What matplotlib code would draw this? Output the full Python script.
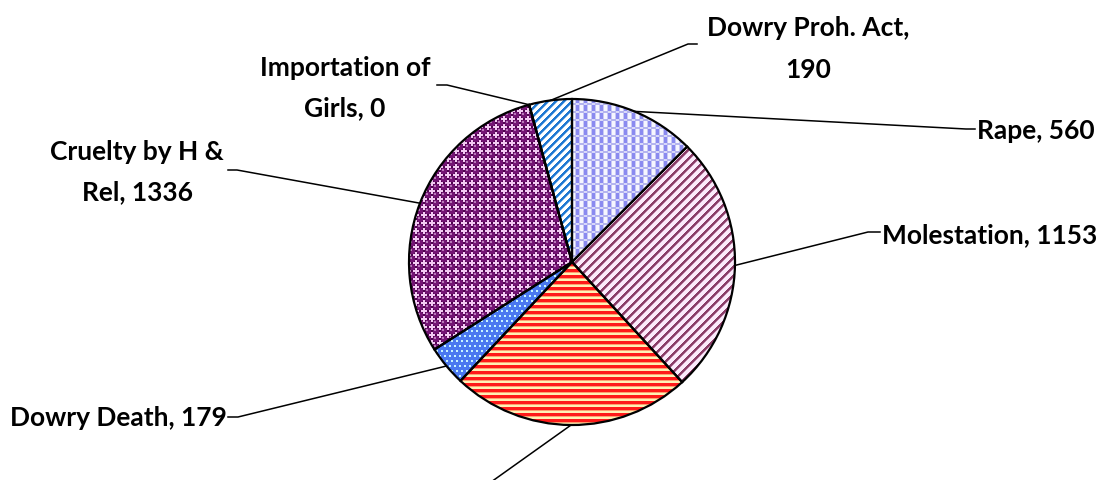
import numpy as np
import matplotlib
matplotlib.use("Agg")
import matplotlib.pyplot as plt
from matplotlib.colors import to_rgb

# Crimes against women: registered cases by head
categories = ["Rape", "Molestation", "Kidnapping & Abduction", "Dowry Death",
              "Cruelty by H & Rel", "Importation of Girls", "Dowry Proh. Act"]
values = [560, 1153, 1068, 179, 1336, 0, 190]
# label of each slice as printed (the kidnapping label falls below the frame)
label_texts = ["Rape, 560", "Molestation, 1153", None,
               "Dowry Death, 179", "Cruelty by H &\nRel, 1336",
               "Importation of\nGirls, 0", "Dowry Proh. Act,\n190"]

W, H = 1107, 481
fig = plt.figure(figsize=(W / 100, H / 100), dpi=100)
ax = fig.add_axes([0, 0, 1, 1])

CX, CY, R = 572, H - 263, 163

wedges, _ = ax.pie(values, startangle=90, counterclock=False, radius=R,
                   center=(CX, CY), frame=True,
                   wedgeprops=dict(facecolor="none", edgecolor="black",
                                   linewidth=1.6, zorder=3))

# ---- pixel textures used as slice fills ----
yy, xx = np.mgrid[0:H, 0:W]


def paint(img, mask, color):
    img[mask] = to_rgb(color)


def tex_check():
    img = np.empty((H, W, 3))
    img[:] = to_rgb("#c8c8f4")
    px, py = xx % 8, yy % 8
    paint(img, (px < 3) & (py >= 2), "#8a8af0")
    paint(img, (px >= 4) & (px < 7) & (py >= 2), "#f6f6ff")
    paint(img, (py < 2), "#b4b4ee")
    paint(img, (px < 3) & (py < 2), "#d8d8fa")
    return img


def tex_diag(period, width, dark, mid, light):
    img = np.empty((H, W, 3))
    img[:] = to_rgb(light)
    d = (xx + yy) % period
    paint(img, d < width, dark)
    paint(img, d == width, mid)
    return img


def tex_hstripe():
    img = np.empty((H, W, 3))
    img[:] = to_rgb("#fff0b4")
    py = yy % 6
    paint(img, py < 3, "#ff1a1a")
    paint(img, py == 3, "#ffa070")
    return img


def tex_dots():
    img = np.empty((H, W, 3))
    img[:] = to_rgb("#4a78f0")
    row = yy // 5
    px = (xx + (row % 2) * 2) % 5
    py = yy % 5
    paint(img, (px >= 1) & (px <= 2) & (py >= 1) & (py <= 2), "#c8f4ff")
    return img


def tex_balls():
    img = np.empty((H, W, 3))
    img[:] = to_rgb("#f4caf4")
    cx = xx % 8 - 3.5
    cy = yy % 8 - 3.5
    r2 = cx ** 2 + cy ** 2
    paint(img, r2 <= 13.0, "#4e044e")
    paint(img, r2 <= 9.0, "#741474")
    paint(img, (cx + 1.2) ** 2 + (cy + 1.2) ** 2 <= 1.3, "#b878b8")
    return img


def tex_plain():
    return np.ones((H, W, 3))


textures = [
    tex_check(),
    tex_diag(9, 3, "#8a3d68", "#c48cb0", "#fbeafb"),
    tex_hstripe(),
    tex_dots(),
    tex_balls(),
    tex_plain(),
    tex_diag(8, 3, "#1f78d2", "#8ec0ee", "#ffffff"),
]

for w, tex in zip(wedges, textures):
    im = ax.imshow(tex, extent=(0, W, 0, H), origin="upper",
                   interpolation="nearest", zorder=1)
    im.set_clip_path(w)

# ---- leader lines and labels (layout in pixel coordinates, y from top) ----
layout = [
    # elbow, end of line, text anchor, horizontal alignment
    ((966, 130), (975, 130), (977, 131), "left"),
    ((868, 233), (880, 233), (882, 235), "left"),
    ((470, 498), (460, 498), None, None),
    ((238, 418), (228, 418), (227, 418), "right"),
    ((237, 171), (228, 171), (137, 172), "center"),
    ((447, 86), (437, 86), (345, 88), "center"),
    ((688, 45), (697, 45), (808, 49), "center"),
]

for w, text, (elbow, end, anchor, ha) in zip(wedges, label_texts, layout):
    mid = np.deg2rad((w.theta1 + w.theta2) / 2)
    sx, sy = CX + R * np.cos(mid), CY + R * np.sin(mid)
    ax.plot([sx, elbow[0], end[0]], [sy, H - elbow[1], H - end[1]],
            color="black", linewidth=1.1, zorder=4, clip_on=False)
    if text is None:
        continue
    ax.text(anchor[0], H - anchor[1], text, ha=ha, va="center",
            fontsize=19, fontweight="bold", family=["Lato", "DejaVu Sans"],
            linespacing=1.85, multialignment="center", zorder=5)

ax.set_xlim(0, W)
ax.set_ylim(0, H)
ax.set_aspect("auto")
ax.axis("off")

fig.savefig("out.png", dpi=100, facecolor="white")
